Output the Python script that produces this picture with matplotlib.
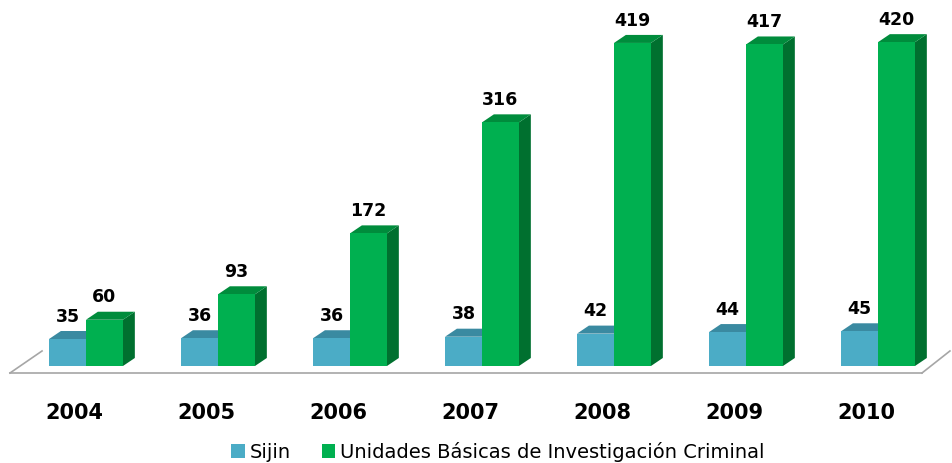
import matplotlib
matplotlib.use("Agg")
import matplotlib.pyplot as plt
from matplotlib.patches import Polygon, Rectangle

years = ["2004", "2005", "2006", "2007", "2008", "2009", "2010"]
sijin = [35, 36, 36, 38, 42, 44, 45]
ubic = [60, 93, 172, 316, 419, 417, 420]
series_names = ["Sijin", "Unidades Básicas de Investigación Criminal"]

# colours: (front, top, side)
c_sijin = ("#4BACC6", "#3A8AA1", "#2F7388")
c_ubic = ("#00B050", "#008C3C", "#00702F")

W = 0.28      # bar width (category units)
DX = 0.09     # depth offset x
DY = 10.4     # depth offset y (value units)

fig = plt.figure(figsize=(9.52, 4.63), dpi=100)
ax = fig.add_axes([0, 0, 1, 1])
ax.set_xlim(-0.6515, 6.5606)
ax.set_ylim(-125.8, 474.7)
ax.axis("off")

def bar3d(x0, v, cols, z):
    f, t, s = cols
    ax.add_patch(Polygon([(x0 + W, 0), (x0 + W + DX, DY), (x0 + W + DX, v + DY), (x0 + W, v)],
                         closed=True, facecolor=s, edgecolor="none", zorder=z))
    ax.add_patch(Polygon([(x0, v), (x0 + DX, v + DY), (x0 + W + DX, v + DY), (x0 + W, v)],
                         closed=True, facecolor=t, edgecolor="none", zorder=z))
    ax.add_patch(Rectangle((x0, 0), W, v, facecolor=f, edgecolor="none", zorder=z + 0.5))

# floor outline
fx0, fx1 = -0.576, 6.333
ax.plot([fx0, fx0 + 0.243], [-9.1, 19.5], color="#A6A6A6", lw=1.2, zorder=1)
ax.plot([fx0, fx1], [-9.1, -9.1], color="#A6A6A6", lw=1.2, zorder=1)
ax.plot([fx1, fx1 + 0.212], [-9.1, 19.5], color="#A6A6A6", lw=1.2, zorder=1)

for i, (a, b) in enumerate(zip(sijin, ubic)):
    bar3d(i - W, a, c_sijin, 2)
    bar3d(i, b, c_ubic, 4)
    ax.text(i - W / 2, a + DY + 7, str(a), ha="center", va="bottom",
            fontsize=12.5, fontweight="bold", color="black", zorder=6)
    ax.text(i + W / 2, b + DY + 7, str(b), ha="center", va="bottom",
            fontsize=12.5, fontweight="bold", color="black", zorder=6)
    ax.text(i - 0.085, -61, years[i], ha="center", va="center",
            fontsize=15, fontweight="bold", color="black")

handles = [Rectangle((0, 0), 1, 1, facecolor=c_sijin[0]),
           Rectangle((0, 0), 1, 1, facecolor=c_ubic[0])]
leg = ax.legend(handles, series_names, ncol=2, loc="center",
                bbox_to_anchor=(0.523, 1 - 452 / 463), frameon=False,
                fontsize=14, handlelength=0.7, handleheight=0.7,
                handletextpad=0.25, columnspacing=1.6, borderaxespad=0)

fig.savefig("out.png", dpi=100)
